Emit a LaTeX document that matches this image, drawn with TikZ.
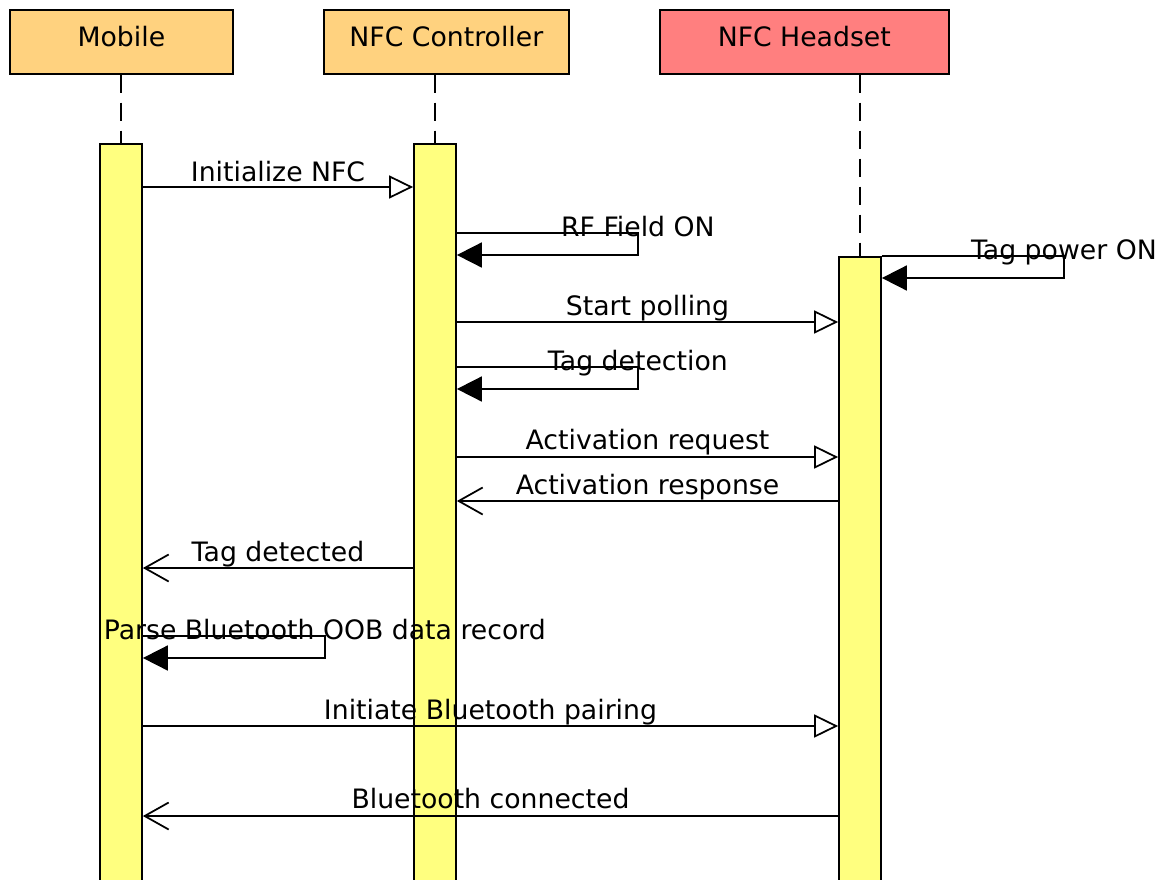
\documentclass[tikz,border=0pt]{standalone}
\usepackage{fontspec}
\setmainfont{DejaVu Sans}
\usetikzlibrary{arrows.meta, calc}

\definecolor{actorcol}{RGB}{255,210,127}
\definecolor{headcol}{RGB}{255,127,127}
\definecolor{barcol}{RGB}{255,255,127}

\begin{document}
\begin{tikzpicture}[x=0.02cm, y=-0.02cm,
  font=\fontsize{15.2pt}{18pt}\selectfont,
  actor/.style={draw, line width=1pt, fill=actorcol, anchor=north west, inner sep=0pt, minimum height=1.28cm, text height=0.76em, text depth=0.22em},
  bar/.style={draw, line width=1pt, fill=barcol, anchor=north, inner sep=0pt, minimum width=0.84cm},
  life/.style={line width=0.9pt, dash pattern=on 0.36cm off 0.2cm},
  msg/.style={line width=1pt, -{Triangle[open, length=0.48cm, width=0.46cm]}},
  reply/.style={line width=1pt, -{Straight Barb[length=0.48cm, width=0.54cm]}},
  selfmsg/.style={line width=1pt, -{Triangle[length=0.5cm, width=0.5cm]}},
  lbl/.style={anchor=base, inner sep=0pt}]
\useasboundingbox (0,0) rectangle (1172,879);

\node[actor, minimum width=4.46cm] (mob) at (9,9) {Mobile};
\node[actor, minimum width=4.9cm] (ctl) at (323,9) {NFC Controller};
\node[actor, minimum width=5.78cm, fill=headcol] (hs) at (659,9) {NFC Headset};

\node[bar, minimum height=15.2cm] (mobbar) at (121,143) {};
\node[bar, minimum height=15.2cm] (ctlbar) at (435,143) {};
\node[bar, minimum height=12.9cm] (hsbar) at (860,256) {};

\draw[life] (mobbar.north |- mob.south) -- (mobbar.north);
\draw[life] (ctlbar.north |- ctl.south) -- (ctlbar.north);
\draw[life] (hsbar.north |- hs.south) -- (hsbar.north);

\draw[msg] (mobbar.east |- 0,187) -- node[lbl, yshift=0.12cm] {Initialize NFC} (ctlbar.west |- 0,187);
\draw[selfmsg] (ctlbar.east |- 0,233) -- ++(181,0) node[lbl, yshift=-0.06cm] {RF Field ON} -- ++(0,22) -- (ctlbar.east |- 0,255);
\draw[selfmsg] (hsbar.north east) -- ++(182,0) node[lbl, yshift=-0.06cm] {Tag power ON} -- ++(0,22) -- (hsbar.east |- 0,278);
\draw[msg] (ctlbar.east |- 0,322) -- node[lbl, yshift=0.14cm] {Start polling} (hsbar.west |- 0,322);
\draw[selfmsg] (ctlbar.east |- 0,367) -- ++(181,0) node[lbl, yshift=-0.06cm] {Tag detection} -- ++(0,22) -- (ctlbar.east |- 0,389);
\draw[msg] (ctlbar.east |- 0,457) -- node[lbl, yshift=0.16cm] {Activation request} (hsbar.west |- 0,457);
\draw[reply] (hsbar.west |- 0,501) -- node[lbl, yshift=0.14cm] {Activation response} (ctlbar.east |- 0,501);
\draw[reply] (ctlbar.west |- 0,568) -- node[lbl, yshift=0.14cm] {Tag detected} (mobbar.east |- 0,568);
\draw[selfmsg] (mobbar.east |- 0,636) -- ++(182,0) node[lbl, yshift=-0.06cm] {Parse Bluetooth OOB data record} -- ++(0,22) -- (mobbar.east |- 0,658);
\draw[msg] (mobbar.east |- 0,726) -- node[lbl, yshift=0.14cm] {Initiate Bluetooth pairing} (hsbar.west |- 0,726);
\draw[reply] (hsbar.west |- 0,816) -- node[lbl, yshift=0.16cm] {Bluetooth connected} (mobbar.east |- 0,816);
\end{tikzpicture}
\end{document}
